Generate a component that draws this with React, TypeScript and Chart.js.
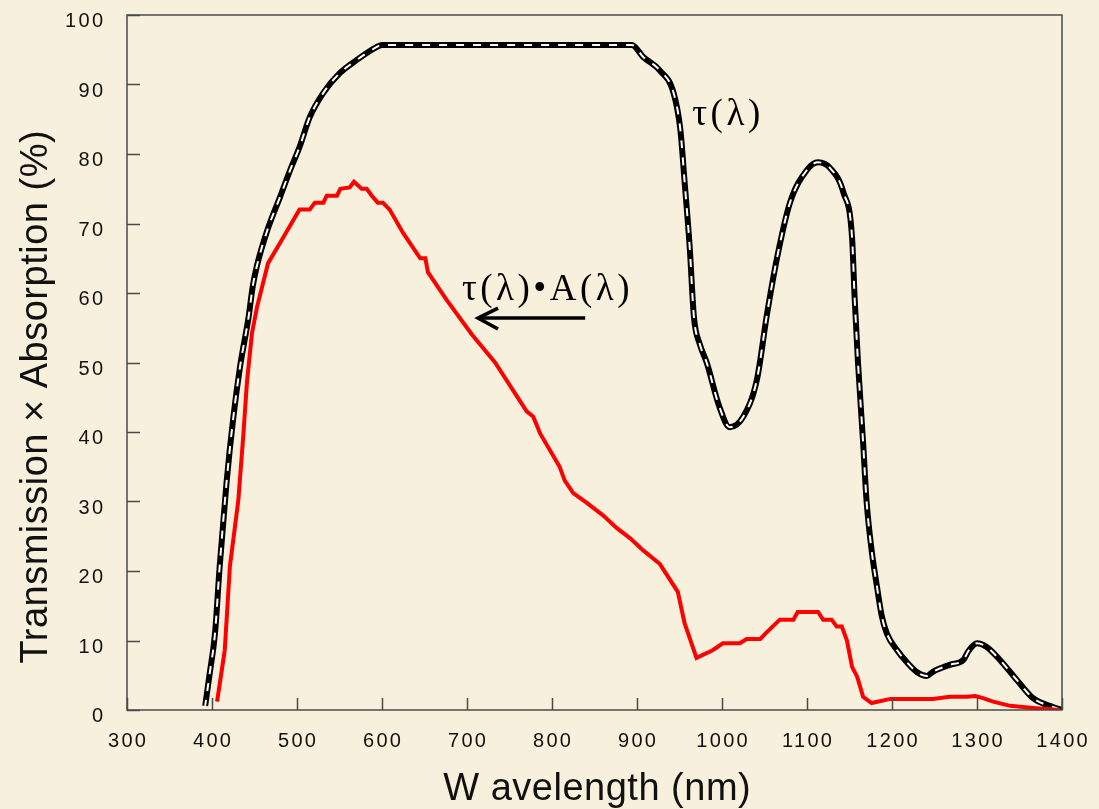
import React, { useEffect, useRef } from "react";
import { Chart, registerables } from "chart.js";

Chart.register(...registerables);

// ---------- data ----------
const xTickValues = [300, 400, 500, 600, 700, 800, 900, 1000, 1100, 1200, 1300, 1400];
const yTickValues = [0, 10, 20, 30, 40, 50, 60, 70, 80, 90, 100];

const tauWavelength = [
  392, 397, 403.5, 409, 417, 425, 433, 443, 448, 453, 465, 480, 492, 503, 515, 531, 550, 570, 594,
  600, 700, 800, 894, 907, 927, 943, 951, 956, 962, 967, 974, 982, 997, 1009, 1025, 1041, 1053, 1065,
  1080, 1100, 1113, 1127, 1143, 1153, 1156, 1160, 1166, 1170, 1176, 1182, 1188, 1194, 1206, 1218,
  1230, 1241, 1248, 1268, 1284, 1290, 1300, 1311, 1327, 1347, 1366, 1390, 1400,
];
const tauValues = [
  0.6, 5, 11, 20.6, 32.6, 42, 49.4, 56.5, 61, 64, 69, 73.8, 77.7, 81, 85.3, 88.8, 91.6, 93.5, 95.4,
  95.7, 95.7, 95.7, 95.7, 94, 92, 88.8, 83.5, 76, 66.6, 56.5, 52.6, 50, 43.6, 40.7, 42.2, 47.5, 57, 65.2,
  73, 77.7, 78.8, 78, 74.4, 68, 59.4, 50, 38.5, 30.2, 23, 18, 13.5, 11, 8.6, 6.8,
  5.4, 4.9, 5.5, 6.5, 7.2, 8.5, 9.6, 9.1, 7.2, 4.3, 1.7, 0.4, 0,
];

const productWavelength = [
  406, 415, 421, 431, 437, 441, 447, 453, 466, 480, 503, 515, 521, 531, 535, 547, 551, 562, 567,
  576, 582, 588, 595, 601, 609, 625, 645, 651, 654, 676, 706, 733, 770, 778, 786, 809, 815, 825,
  841, 860, 876, 892, 907, 927, 948, 956, 970, 989, 1001, 1021, 1029, 1045, 1051, 1068, 1084,
  1089, 1113, 1119, 1129, 1135, 1141, 1147, 1153, 1159, 1166, 1176, 1198, 1248, 1268, 1288, 1298,
  1307, 1319, 1339, 1366, 1397,
];
const productValues = [
  1.2, 8.6, 20.6, 30.2, 39.8, 47, 54.2, 58, 64.3, 67.2, 72, 72, 73, 73, 74, 74, 75, 75.2, 76,
  75, 75, 74, 73, 73, 72, 68.6, 65, 65, 63, 59, 54, 50, 43, 42.2, 39.8, 35, 33, 31.2,
  29.8, 28, 26.2, 24.7, 23, 21, 17, 12.5, 7.5, 8.6, 9.6, 9.6, 10.2, 10.2, 11, 13, 13,
  14.1, 14.1, 13, 13, 12, 12, 10, 6.2, 4.8, 1.9, 1, 1.6, 1.6, 1.9, 1.9, 2.0,
  1.7, 1.2, 0.6, 0.3, 0,
];

const xTitle = "W avelength (nm)";
const yTitle = "Transmission × Absorption (%)";
const tauLabel = "τ(λ)";
const productLabel = "τ(λ)•A(λ)";
// annotation anchors in data coordinates [wavelength, value]
const tauLabelAt = [965, 84.2];
const productLabelAt = [694, 59];
const arrowFrom = [839, 56.4];
const arrowTo = [713, 56.4];

const BG = "#F7F0DC";

function pts(xs: number[], ys: number[]) {
  return xs.map((x, i) => ({ x, y: ys[i] }));
}

function drawSpaced(
  ctx: CanvasRenderingContext2D,
  text: string,
  x: number,
  y: number,
  align: "left" | "center" | "right",
  spacing: number
) {
  (ctx as any).letterSpacing = spacing + "px";
  ctx.textAlign = "left";
  const w = ctx.measureText(text).width - spacing;
  let sx = x;
  if (align === "center") sx = x - w / 2;
  else if (align === "right") sx = x - w;
  ctx.fillText(text, sx, y);
  (ctx as any).letterSpacing = "0px";
}

export default function App() {
  const ref = useRef<HTMLCanvasElement>(null);

  useEffect(() => {
    document.body.style.margin = "0";
    document.body.style.background = BG;
    const canvas = ref.current!;
    const overlay = {
      id: "overlay",
      beforeDraw(chart: any) {
        const c = chart.ctx as CanvasRenderingContext2D;
        c.save();
        c.fillStyle = BG;
        c.fillRect(0, 0, chart.width, chart.height);
        c.restore();
      },
      afterDraw(chart: any) {
        const c = chart.ctx as CanvasRenderingContext2D;
        const xs = chart.scales.x;
        const ys = chart.scales.y;
        const a = chart.chartArea;
        c.save();
        // frame
        c.strokeStyle = "#4a4a4a";
        c.lineWidth = 1.5;
        c.strokeRect(a.left, a.top, a.right - a.left, a.bottom - a.top);
        // ticks
        c.beginPath();
        xTickValues.forEach((v) => {
          const px = Math.round(xs.getPixelForValue(v)) + 0.5;
          c.moveTo(px, a.bottom);
          c.lineTo(px, a.bottom - 12);
        });
        yTickValues.forEach((v) => {
          const py = Math.round(ys.getPixelForValue(v)) + 0.5;
          c.moveTo(a.left, py);
          c.lineTo(a.left + 13, py);
        });
        c.stroke();
        // tick labels
        c.fillStyle = "#111";
        c.font = "20px 'Liberation Sans', Arial, sans-serif";
        c.textBaseline = "alphabetic";
        xTickValues.forEach((v) => {
          drawSpaced(c, String(v), xs.getPixelForValue(v), a.bottom + 37, "center", 2.3);
        });
        yTickValues.forEach((v) => {
          drawSpaced(c, String(v), a.left - 24, ys.getPixelForValue(v) + 12, "right", 2.3);
        });
        // axis titles
        c.font = "38px 'Liberation Sans', Arial, sans-serif";
        drawSpaced(c, xTitle, 597, 800, "center", 0.5);
        c.save();
        c.translate(47, 397);
        c.rotate(-Math.PI / 2);
        drawSpaced(c, yTitle, 0, 0, "center", 0.5);
        c.restore();
        // annotations
        c.fillStyle = "#000";
        c.font = "37px 'Liberation Serif', 'Times New Roman', serif";
        drawSpaced(
          c,
          tauLabel,
          xs.getPixelForValue(tauLabelAt[0]),
          ys.getPixelForValue(tauLabelAt[1]),
          "left",
          3.5
        );
        drawSpaced(
          c,
          productLabel,
          xs.getPixelForValue(productLabelAt[0]),
          ys.getPixelForValue(productLabelAt[1]),
          "left",
          3.5
        );
        // arrow
        const x1 = xs.getPixelForValue(arrowFrom[0]);
        const y1 = ys.getPixelForValue(arrowFrom[1]);
        const x2 = xs.getPixelForValue(arrowTo[0]);
        const y2 = ys.getPixelForValue(arrowTo[1]);
        c.strokeStyle = "#000";
        c.lineWidth = 3.6;
        c.lineCap = "butt";
        c.beginPath();
        c.moveTo(x1, y1);
        c.lineTo(x2 + 2, y2);
        c.stroke();
        c.beginPath();
        c.moveTo(x2 + 20, y2 - 10);
        c.lineTo(x2, y2);
        c.lineTo(x2 + 20, y2 + 11);
        c.stroke();
        c.restore();
      },
    };

    const chart = new Chart(canvas, {
      type: "line",
      data: {
        datasets: [
          {
            label: "product",
            data: pts(productWavelength, productValues),
            borderColor: "#FF0000",
            borderWidth: 4,
            pointRadius: 0,
            tension: 0,
            order: 0,
          },
          {
            label: "tau-inner",
            data: pts(tauWavelength, tauValues),
            borderColor: "#FFFFFF",
            borderWidth: 2,
            borderDash: [8, 9],
            borderDashOffset: 2,
            pointRadius: 0,
            cubicInterpolationMode: "monotone",
            order: 1,
          },
          {
            label: "tau",
            data: pts(tauWavelength, tauValues),
            borderColor: "#000000",
            borderWidth: 6,
            pointRadius: 0,
            cubicInterpolationMode: "monotone",
            order: 2,
          },
        ],
      },
      options: {
        animation: false,
        responsive: false,
        devicePixelRatio: 1,
        layout: { padding: { left: 127, top: 15, right: 37, bottom: 99 } },
        plugins: { legend: { display: false }, tooltip: { enabled: false } },
        scales: {
          x: { type: "linear", min: 300, max: 1400, display: false },
          y: { type: "linear", min: 0, max: 100, display: false },
        },
      },
      plugins: [overlay],
    });
    return () => chart.destroy();
  }, []);

  return (
    <div style={{ width: 1099, height: 809 }}>
      <canvas ref={ref} width={1099} height={809} style={{ display: "block" }} />
    </div>
  );
}
